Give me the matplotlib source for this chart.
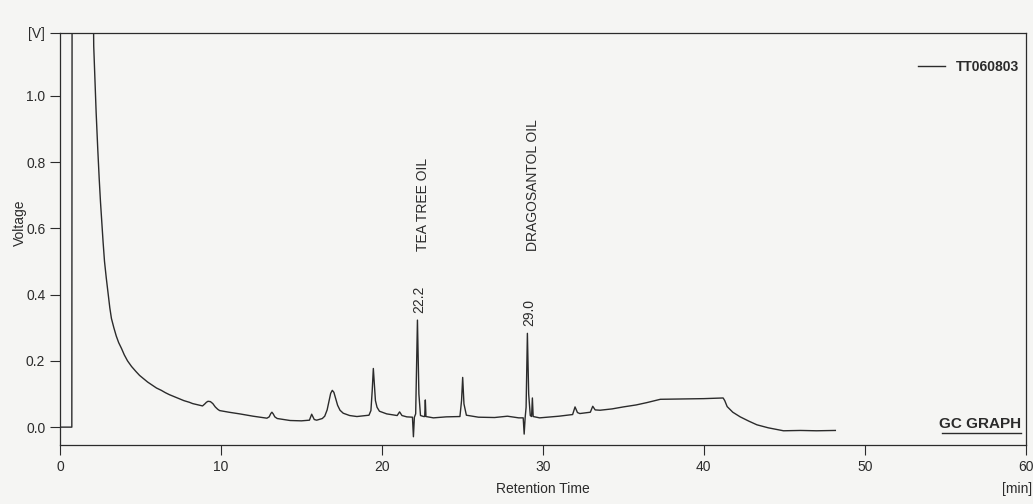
import matplotlib
matplotlib.use("Agg")
import matplotlib.pyplot as plt

# chromatogram trace (retention time in min, voltage in V)
times = [0.0, 0.74, 0.76, 2.02, 2.1, 2.25, 2.35, 2.44, 2.52, 2.6, 2.68, 2.77, 2.88, 3.0,
         3.1, 3.2, 3.35, 3.5, 3.65, 3.83, 4.0, 4.2, 4.45, 4.72, 4.95, 5.2, 5.45, 5.73,
         6.0, 6.3, 6.55, 6.8, 7.1, 7.4, 7.7, 8.04, 8.25, 8.5, 8.86, 9.0, 9.1, 9.2,
         9.35, 9.5, 9.65, 9.8, 9.92, 10.5, 11.17, 12.0, 12.86, 13.0, 13.1, 13.17, 13.25,
         13.35, 13.5, 14.3, 15.0, 15.5, 15.64, 15.8, 15.95, 16.3, 16.45, 16.6, 16.72,
         16.82, 16.92, 17.02, 17.12, 17.25, 17.4, 17.6, 18.0, 18.45, 19.2, 19.32, 19.4,
         19.47, 19.53, 19.6, 19.7, 19.85, 20.3, 20.95, 21.1, 21.25, 21.55, 21.9, 21.96,
         22.02, 22.1, 22.21, 22.3, 22.4, 22.6, 22.66, 22.7, 22.74, 23.2, 24.0, 24.85,
         24.95, 25.02, 25.1, 25.25, 26.0, 27.0, 27.8, 28.5, 28.78, 28.84, 28.9, 28.96,
         29.04, 29.12, 29.22, 29.3, 29.35, 29.4, 29.8, 31.0, 31.85, 32.0, 32.15, 32.3,
         32.95, 33.1, 33.25, 33.55, 34.3, 35.0, 35.8, 36.46, 37.3, 38.5, 40.0, 41.2,
         41.3, 41.45, 41.8, 42.26, 42.8, 43.3, 44.0, 44.95, 46.0, 47.0, 48.17]
voltage = [0.0, 0.0, 1.6, 1.6, 1.15, 0.95, 0.84, 0.75, 0.68, 0.62, 0.56, 0.50, 0.45, 0.40,
           0.36, 0.328, 0.30, 0.275, 0.255, 0.237, 0.218, 0.20, 0.183, 0.168, 0.156, 0.146, 0.136, 0.127,
           0.118, 0.111, 0.104, 0.098, 0.092, 0.086, 0.080, 0.075, 0.071, 0.068, 0.064, 0.070, 0.075, 0.078,
           0.077, 0.071, 0.061, 0.054, 0.050, 0.045, 0.040, 0.033, 0.027, 0.031, 0.041, 0.045, 0.040,
           0.031, 0.026, 0.020, 0.019, 0.021, 0.039, 0.023, 0.021, 0.026, 0.033, 0.052, 0.080,
           0.102, 0.111, 0.105, 0.088, 0.066, 0.051, 0.042, 0.035, 0.032, 0.036, 0.050, 0.110,
           0.177, 0.130, 0.080, 0.060, 0.048, 0.040, 0.035, 0.046, 0.035, 0.031, 0.030, -0.029,
           0.030, 0.040, 0.323, 0.100, 0.035, 0.032, 0.032, 0.082, 0.032, 0.028, 0.031, 0.032,
           0.080, 0.150, 0.070, 0.036, 0.030, 0.029, 0.033, 0.028, 0.028, -0.021, 0.028, 0.060,
           0.283, 0.100, 0.035, 0.032, 0.088, 0.032, 0.028, 0.033, 0.038, 0.061, 0.044, 0.041,
           0.045, 0.063, 0.052, 0.051, 0.055, 0.061, 0.067, 0.074, 0.084, 0.085, 0.086, 0.088,
           0.080, 0.062, 0.045, 0.031, 0.018, 0.007, -0.002, -0.011, -0.010, -0.011, -0.010]

series_name = "TT060803"
peak_times = [22.21, 29.04]
peak_heights = [0.323, 0.283]
peak_labels = ["22.2", "29.0"]
peak_names = ["TEA TREE OIL", "DRAGOSANTOL OIL"]

x_ticks = [0, 10, 20, 30, 40, 50, 60]
x_ticklabels = ["0", "10", "20", "30", "40", "50", "60"]
y_ticks = [0.0, 0.2, 0.4, 0.6, 0.8, 1.0, 1.19]
y_ticklabels = ["0.0", "0.2", "0.4", "0.6", "0.8", "1.0", "[V]"]

plt.rcParams["font.family"] = ["Liberation Sans", "DejaVu Sans"]
plt.rcParams["font.size"] = 10

ink = "#2b2b2b"
fig = plt.figure(figsize=(10.33, 5.04), dpi=100, facecolor="#f5f5f3")
ax = fig.add_axes([0.058, 0.117, 0.935, 0.818])
ax.set_facecolor("#f5f5f3")

ax.plot(times, voltage, color=ink, linewidth=1.0, label=series_name)

ax.set_xlim(0, 60)
ax.set_ylim(-0.054, 1.19)
ax.set_xticks(x_ticks)
ax.set_xticklabels(x_ticklabels)
ax.set_yticks(y_ticks)
ax.set_yticklabels(y_ticklabels)
ax.tick_params(direction="out", length=7, width=0.8, color=ink, labelcolor=ink, labelsize=10)
for sp in ax.spines.values():
    sp.set_color(ink)
    sp.set_linewidth(0.9)

ax.set_xlabel("Retention Time", color=ink, fontsize=10, labelpad=6)
ax.set_ylabel("Voltage", color=ink, fontsize=10)
ax.yaxis.set_label_coords(-0.034, 0.54)

# unit under the last x tick, runs into the right edge like the scan
fig.text(0.999, 0.016, "[min]", ha="right", va="bottom", color=ink, fontsize=10)

# peak labels
for t, h, lab, name in zip(peak_times, peak_heights, peak_labels, peak_names):
    ax.annotate(lab, xy=(t, h), xytext=(1, 5), textcoords="offset points",
                rotation=90, ha="center", va="bottom", color=ink, fontsize=10)
    ax.annotate(name, xy=(t, 0.53), xytext=(4, 0), textcoords="offset points",
                rotation=90, ha="center", va="bottom", color=ink, fontsize=10)

leg = ax.legend(loc="upper right", bbox_to_anchor=(1.006, 0.965), frameon=False,
                handlelength=1.9, handletextpad=0.8,
                prop={"weight": "bold", "size": 10})
for txt in leg.get_texts():
    txt.set_color(ink)

# stamp in the lower right corner
ax.text(0.995, 0.035, "GC GRAPH", transform=ax.transAxes, ha="right", va="bottom",
        fontsize=11, fontweight="bold", color=ink)
ax.plot([0.913, 0.995], [0.03, 0.03], transform=ax.transAxes, color=ink, linewidth=1.0)

fig.savefig("out.png", dpi=100, facecolor=fig.get_facecolor())
